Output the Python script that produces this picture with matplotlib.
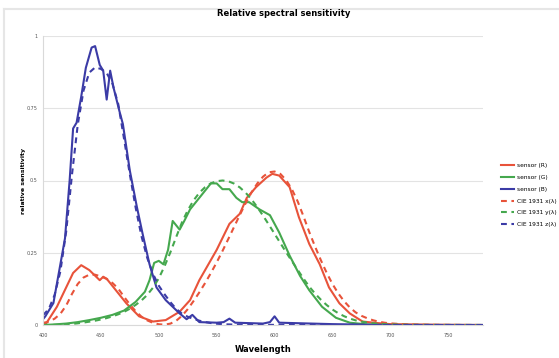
import matplotlib
matplotlib.use('Agg')
import matplotlib.pyplot as plt
from matplotlib.lines import Line2D

# sensor curves
r_nm = [400, 403, 412, 420, 426, 433, 440, 449, 452, 455, 463, 472, 483, 495, 506, 518, 527,
        535, 550, 561, 570, 576, 584, 593, 598, 604, 613, 621, 630, 639, 647, 656, 665, 676,
        688, 700, 740, 780]
r_val = [0.0, 0.007, 0.063, 0.13, 0.18, 0.207, 0.19, 0.155, 0.167, 0.16, 0.12, 0.075, 0.03,
         0.012, 0.017, 0.046, 0.086, 0.155, 0.26, 0.35, 0.385, 0.44, 0.477, 0.51, 0.523,
         0.517, 0.477, 0.373, 0.28, 0.21, 0.13, 0.075, 0.04, 0.012, 0.007, 0.003, 0.001, 0.0]

g_nm = [400, 410, 420, 430, 440, 450, 460, 470, 480, 488, 492, 496, 500, 504, 508, 512, 518,
        522, 527, 535, 545, 550, 555, 561, 567, 572, 578, 587, 596, 604, 613, 622, 630, 641,
        653, 665, 680, 700, 740, 780]
g_val = [0.0, 0.002, 0.005, 0.01, 0.017, 0.025, 0.035, 0.05, 0.08, 0.115, 0.155, 0.215, 0.222,
         0.21, 0.26, 0.36, 0.33, 0.36, 0.40, 0.44, 0.49, 0.49, 0.47, 0.47, 0.44, 0.425, 0.425,
         0.40, 0.38, 0.32, 0.24, 0.17, 0.12, 0.063, 0.025, 0.008, 0.002, 0.0, 0.0, 0.0]

b_nm = [400, 402, 409, 415, 419, 423, 426, 429, 433, 437, 442, 445, 449, 452, 455, 458, 461,
        466, 469, 475, 481, 486, 492, 498, 506, 518, 524, 529, 535, 550, 556, 561, 566, 590,
        596, 600, 604, 650, 700, 780]
b_val = [0.02, 0.03, 0.076, 0.21, 0.30, 0.5, 0.68, 0.70, 0.79, 0.89, 0.96, 0.965, 0.90, 0.88,
         0.78, 0.88, 0.82, 0.74, 0.695, 0.534, 0.41, 0.316, 0.21, 0.13, 0.086, 0.04, 0.02,
         0.035, 0.01, 0.008, 0.01, 0.022, 0.008, 0.005, 0.01, 0.03, 0.008, 0.003, 0.0, 0.0]

# CIE curves (dashed), same scale
cie_nm = list(range(400, 701, 5)) + [710, 720, 730, 740, 750, 760, 770, 780]
cie_x = [0.0072, 0.0116, 0.0218, 0.0388, 0.0672, 0.1074, 0.142, 0.1643, 0.1741, 0.174,
         0.1681, 0.1594, 0.1454, 0.1256, 0.0977, 0.0711, 0.0478, 0.029, 0.016, 0.0074,
         0.0025, 0.0012, 0.0047, 0.0146, 0.0316, 0.0548, 0.0828, 0.1129, 0.1452, 0.1799,
         0.2167, 0.256, 0.2973, 0.3392, 0.3811, 0.4213, 0.4582, 0.4893, 0.5132, 0.5284,
         0.5311, 0.5228, 0.5013, 0.4692, 0.4272, 0.3757, 0.3212, 0.271, 0.224, 0.1804,
         0.1418, 0.1094, 0.0825, 0.0606, 0.0437, 0.0318, 0.0234, 0.0165, 0.0114, 0.0079,
         0.0057, 0.0029, 0.0014, 0.0007, 0.0003, 0.0002, 0.0001, 0.0, 0.0]
cie_y = [0.0002, 0.0003, 0.0006, 0.0011, 0.002, 0.0037, 0.0058, 0.0084, 0.0115, 0.0149,
         0.019, 0.024, 0.03, 0.037, 0.0455, 0.0563, 0.0695, 0.0847, 0.104, 0.1293,
         0.1615, 0.2037, 0.2515, 0.3041, 0.355, 0.3966, 0.431, 0.4574, 0.477, 0.4902,
         0.4975, 0.5, 0.4975, 0.4893, 0.476, 0.4577, 0.435, 0.4082, 0.3785, 0.3475,
         0.3155, 0.2834, 0.2515, 0.2206, 0.1905, 0.1605, 0.1325, 0.1085, 0.0875, 0.0691,
         0.0535, 0.0408, 0.0305, 0.0223, 0.016, 0.0116, 0.0085, 0.006, 0.0041, 0.0029,
         0.0021, 0.001, 0.0005, 0.0003, 0.0001, 0.0001, 0.0, 0.0, 0.0]
cie_z = [0.0339, 0.0551, 0.1037, 0.1857, 0.3228, 0.5195, 0.6928, 0.8115, 0.8735, 0.8913,
         0.8861, 0.8721, 0.8346, 0.7641, 0.6438, 0.521, 0.4065, 0.3081, 0.2326, 0.1767,
         0.136, 0.1062, 0.0791, 0.0559, 0.0391, 0.0286, 0.0211, 0.0149, 0.0102, 0.0067,
         0.0044, 0.0029, 0.002, 0.0014, 0.0011, 0.0009, 0.0008, 0.0007, 0.0006, 0.0005,
         0.0004, 0.0003, 0.0002, 0.0002, 0.0001, 0.0001, 0.0, 0.0, 0.0, 0.0,
         0.0, 0.0, 0.0, 0.0, 0.0, 0.0, 0.0, 0.0, 0.0, 0.0,
         0.0, 0.0, 0.0, 0.0, 0.0, 0.0, 0.0, 0.0, 0.0]

labels = ['sensor (R)', 'sensor (G)', 'sensor (B)',
          'CIE 1931 x(λ)', 'CIE 1931 y(λ)', 'CIE 1931 z(λ)']
x_ticks = [400, 450, 500, 550, 600, 650, 700, 750]
y_ticks = [0, 0.25, 0.5, 0.75, 1]
y_ticklabels = ['0', '0.25', '0.5', '0.75', '1']

red = '#e8533a'
green = '#45a84e'
blue = '#3b3ba6'
dash = (0, (2.8, 2.2))

fig = plt.figure(figsize=(5.59, 3.58), dpi=100)
ax = fig.add_axes([43 / 559, 33 / 358, 440 / 559, 289 / 358])

ax.plot(r_nm, r_val, color=red, lw=1.5, label=labels[0])
ax.plot(g_nm, g_val, color=green, lw=1.5, label=labels[1])
ax.plot(b_nm, b_val, color=blue, lw=1.5, label=labels[2])
ax.plot(cie_nm, cie_x, color=red, lw=1.5, ls=dash, label=labels[3])
ax.plot(cie_nm, cie_y, color=green, lw=1.5, ls=dash, label=labels[4])
ax.plot(cie_nm, cie_z, color=blue, lw=1.5, ls=dash, label=labels[5])

ax.set_xlim(400, 780)
ax.set_ylim(0, 1)
ax.set_xticks(x_ticks)
ax.set_yticks(y_ticks)
ax.set_yticklabels(y_ticklabels)
ax.tick_params(labelsize=3.5, colors='#555555', length=0)
ax.tick_params(axis='x', pad=6)
ax.tick_params(axis='y', pad=4)
ax.grid(axis='y', color='#e3e3e3', lw=0.8)
ax.set_axisbelow(True)
for s in ['top', 'right']:
    ax.spines[s].set_visible(False)
for s in ['left', 'bottom']:
    ax.spines[s].set_color('#d9d9d9')
    ax.spines[s].set_linewidth(0.8)

fig.text(284 / 559, 1 - 14 / 358, 'Relative spectral sensitivity', fontsize=6,
         fontweight='bold', ha='center', va='center')
ax.set_xlabel('Wavelength', fontsize=6, fontweight='bold', labelpad=5)
ax.set_ylabel('relative sensitivity', fontsize=4.5, fontweight='bold', labelpad=0.5)

ax.legend(loc='upper left', bbox_to_anchor=(496 / 559, 200 / 358),
          bbox_transform=fig.transFigure, fontsize=4.2, frameon=False,
          handlelength=2.2, labelspacing=1.15, handletextpad=0.5)

# light chart border
fig.add_artist(Line2D([4 / 559, 1], [1 - 9 / 358, 1 - 9 / 358], color='#e6e6e6', lw=1.5,
                      transform=fig.transFigure))
fig.add_artist(Line2D([4 / 559, 4 / 559], [0, 1 - 9 / 358], color='#e6e6e6', lw=1.5,
                      transform=fig.transFigure))

plt.savefig('out.png', dpi=100)
